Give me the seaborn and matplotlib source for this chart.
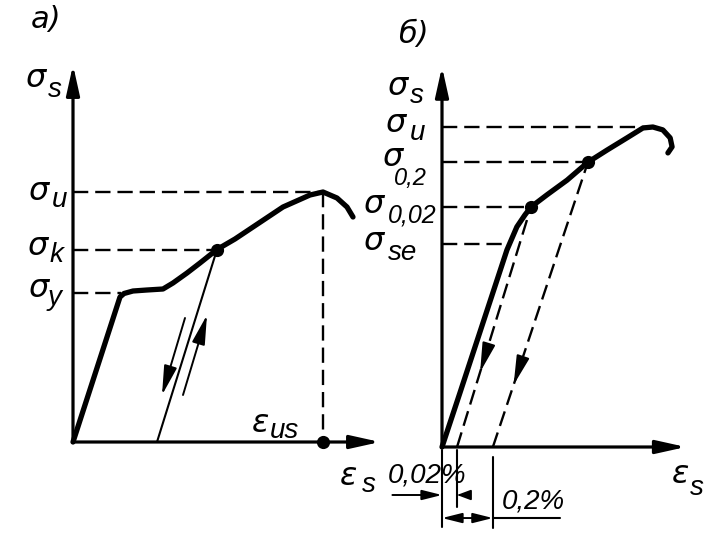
import numpy as np
import pandas as pd
import seaborn as sns
import matplotlib.pyplot as plt

# panel а) - steel with yield plateau, units: sigma_u = 100, eps_us = 100
a_eps = [0, 18.8, 20.4, 24, 29.6, 36, 40, 45.6, 50.8, 57.6, 64.8, 72, 84, 94.8, 100, 105.6, 109.6, 112]
a_sig = [0, 58, 59.4, 60.4, 60.8, 61.2, 63.6, 67.6, 71.6, 77, 81.2, 86, 94, 98.8, 100, 97.6, 94, 90]
a_sig_y, a_sig_k, a_sig_u = 59.6, 77, 100
a_eps_y, a_eps_k, a_eps_us = 19, 57.6, 100
a_unload_eps = [57.6, 33.6]
a_unload_sig = [77, 0]
a_arrow_down = [(44.8, 49.6), (35.6, 18.8)]
a_arrow_up = [(44, 18.8), (53.6, 50.8)]
a_axis_len = (122.8, 150.8)

# panel б) - steel without plateau, units: sigma_u = 100
b_eps = [0, 5.6, 10.2, 15.4, 20.3, 23.4, 25.9, 27.8, 32.8, 39.1, 45.6, 51.6, 57.8, 62.8, 65.9, 69, 71.3, 71.9, 70.6]
b_sig = [0, 16.9, 30.9, 46.7, 61.6, 68.8, 72.5, 75, 78.8, 83.4, 89, 92.8, 96.6, 99.7, 100, 99.1, 96.6, 93.8, 91.9]
b_sig_se, b_sig_002, b_sig_02, b_sig_u = 63.5, 75, 89, 100
b_eps_se, b_eps_002, b_eps_02, b_eps_u = 20.8, 27.8, 45.6, 65.9
b_res_002, b_res_02 = 4.7, 15.9   # residual strains 0,02% and 0,2%
b_arrow_v = [23.4, 19.4]
b_axis_len = (76.2, 118.8)

W, H = 711, 557
sns.set_style("white")
plt.rcParams['lines.scale_dashes'] = False
plt.rcParams['text.color'] = 'black'
plt.rcParams['font.family'] = ['Liberation Sans', 'DejaVu Sans']
GREEK = ['DejaVu Sans']

fig = plt.figure(figsize=(W / 100, H / 100), dpi=100)


def panel(x0, x1, ox, oy, scale):
    ax = fig.add_axes([x0 / W, 0, (x1 - x0) / W, 1])
    ax.patch.set_alpha(0)
    return ax, ((x0 - ox) / scale, (x1 - ox) / scale), ((oy - H) / scale, oy / scale)


def solid(ax, xs, ys, lw):
    sns.lineplot(x=xs, y=ys, ax=ax, color='black', lw=lw, sort=False, estimator=None)


def dashed(ax, xs, ys):
    sns.lineplot(x=xs, y=ys, ax=ax, color='black', lw=1.7, sort=False, estimator=None,
                 linestyle=(0, (11, 5)))


def arrow(ax, tail, tip, lw=1.4, style='-|>,head_length=0.9,head_width=0.2'):
    ax.annotate('', xy=tip, xytext=tail,
                arrowprops=dict(arrowstyle=style, color='black', lw=lw,
                                mutation_scale=20, shrinkA=0, shrinkB=0))


def label(x, y, main, sub=None, sx=0, sy=0, size=23, subsize=20, family=GREEK):
    fig.text(x / W, 1 - y / H, main, fontsize=size, style='italic', color='black',
             family=family, ha='left', va='baseline')
    if sub:
        fig.text(sx / W, 1 - sy / H, sub, fontsize=subsize, style='italic', color='black',
                 ha='left', va='baseline')


# ---- panel а)
axa, xl, yl = panel(0, 390, 73, 442, 2.5)
arrow(axa, (0, 0), (0, a_axis_len[1]), lw=2.3)
arrow(axa, (0, 0), (a_axis_len[0], 0), lw=2.3)
dashed(axa, [0, a_eps_us], [a_sig_u, a_sig_u])
dashed(axa, [a_eps_us, a_eps_us], [a_sig_u, 0])
dashed(axa, [0, a_eps_k], [a_sig_k, a_sig_k])
dashed(axa, [0, a_eps_y], [a_sig_y, a_sig_y])
solid(axa, a_unload_eps, a_unload_sig, 1.5)
solid(axa, a_eps, a_sig, 3.8)
arrow(axa, a_arrow_down[0], a_arrow_down[1])
arrow(axa, a_arrow_up[0], a_arrow_up[1])
sns.scatterplot(x=[a_eps_k, a_eps_us], y=[a_sig_k, 0], ax=axa, color='black', s=90, linewidth=0, zorder=5)
axa.set_xlim(xl)
axa.set_ylim(yl)
axa.set_axis_off()

# ---- panel б)
axb, xl, yl = panel(330, 711, 442, 447, 3.2)
arrow(axb, (0, 0), (0, b_axis_len[1]), lw=2.3)
arrow(axb, (0, 0), (b_axis_len[0], 0), lw=2.3)
dashed(axb, [0, b_eps_u], [b_sig_u, b_sig_u])
dashed(axb, [0, b_eps_02], [b_sig_02, b_sig_02])
dashed(axb, [0, b_eps_002], [b_sig_002, b_sig_002])
dashed(axb, [0, b_eps_se], [b_sig_se, b_sig_se])
dashed(axb, [b_res_002, b_eps_002], [0, b_sig_002])
dashed(axb, [b_res_02, b_eps_02], [0, b_sig_02])
solid(axb, b_eps, b_sig, 3.8)
for (x0, x1, y1), v in zip([(b_res_002, b_eps_002, b_sig_002), (b_res_02, b_eps_02, b_sig_02)], b_arrow_v):
    u = x0 + (x1 - x0) * v / y1
    du = (x1 - x0) * 8 / y1
    arrow(axb, (u + du, v + 8), (u, v))
sns.scatterplot(x=[b_eps_002, b_eps_02], y=[b_sig_002, b_sig_02], ax=axb, color='black', s=90, linewidth=0, zorder=5)

# dimension lines under the strain axis
solid(axb, [0, 0], [-1, -25], 1.5)
solid(axb, [b_res_002, b_res_002], [-1, -18.8], 1.5)
solid(axb, [b_res_02, b_res_02], [-3, -25.3], 1.5)
arrow(axb, (-15.5, -15), (0, -15), style='-|>,head_length=0.6,head_width=0.15')
arrow(axb, (6.2, -15), (b_res_002, -15), style='-|>,head_length=0.4,head_width=0.15')
arrow(axb, (0, -22.2), (b_res_02, -22.2), style='<|-|>,head_length=0.6,head_width=0.15')
solid(axb, [b_res_02, 37], [-22.2, -22.2], 1.5)
axb.set_xlim(xl)
axb.set_ylim(yl)
axb.set_axis_off()

# ---- labels
label(31, 28, 'а)', size=22)
label(25, 87, 'σ', 's', 48, 97)
label(28, 200, 'σ', 'u', 52, 207)
label(27, 255, 'σ', 'k', 50, 262)
label(28, 297, 'σ', 'y', 48, 305)
label(252, 432, 'ε', 'us', 270, 438)
label(340, 485, 'ε', 's', 362, 492)

label(398, 43, 'б)', size=22)
label(387, 95, 'σ', 's', 410, 103)
label(385, 132, 'σ', 'u', 410, 140)
label(382, 166, 'σ', '0,2', 394, 185, subsize=17)
label(363, 213, 'σ', '0,02', 388, 222, subsize=18)
label(363, 250, 'σ', 'se', 388, 260)
label(672, 483, 'ε', 's', 690, 495)
label(388, 483, '0,02%', size=20, family=['Liberation Sans'])
label(502, 508, '0,2%', size=20, family=['Liberation Sans'])

fig.savefig('out.png', dpi=100)
